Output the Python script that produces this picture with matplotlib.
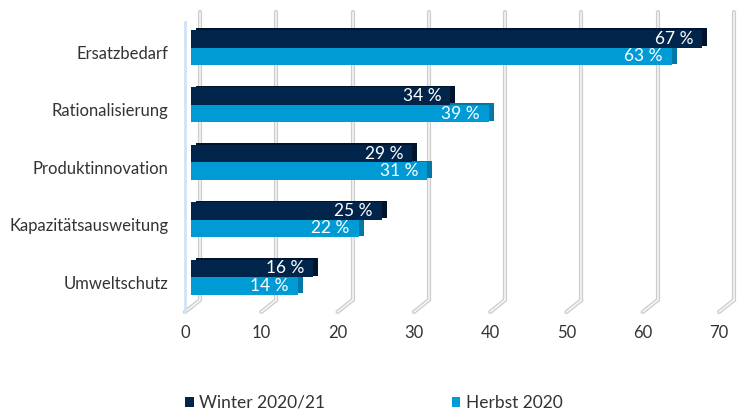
import matplotlib
matplotlib.use("Agg")
import matplotlib.pyplot as plt
from matplotlib.patches import Patch
from matplotlib.transforms import ScaledTranslation, blended_transform_factory

plt.rcParams["font.family"] = ["Lato", "DejaVu Sans"]

categories = ["Ersatzbedarf", "Rationalisierung", "Produktinnovation",
              "Kapazitätsausweitung", "Umweltschutz"]
winter = [67, 34, 29, 25, 16]
herbst = [63, 39, 31, 22, 14]
series_names = ["Winter 2020/21", "Herbst 2020"]
xticks = [0, 10, 20, 30, 40, 50, 60, 70]

C_WINTER = "#00244a"
C_WINTER_SIDE = "#00152d"
C_HERBST = "#009bd5"
C_HERBST_SIDE = "#0079a8"
TEXT = "#333333"

fig = plt.figure(figsize=(7.44, 4.12), dpi=100)
ax = fig.add_axes([185 / 744, 1 - 312 / 412, (719 - 185) / 744, 300 / 412])
ax.set_xlim(0, 70)
ax.set_ylim(4.608, -0.6185)
for s in ax.spines.values():
    s.set_visible(False)

px = 1 / fig.dpi  # one pixel in inches
shift = lambda dx, dy: ScaledTranslation(dx * px, dy * px, fig.dpi_scale_trans)
mixed = blended_transform_factory(ax.transData, ax.transAxes)

# 3D-style walls: vertical gridlines on the back plane, floor edges slanting forward
depth_units = 15 / (ax.bbox.width / 70)
floor_y = 12 / 300
for t in xticks:
    xs_v = [t + depth_units, t + depth_units]
    ys_v = [floor_y, 1.0]
    xs_d = [t, t + depth_units]
    ys_d = [0, floor_y]
    for lw, col in [(3.0, "#cdcdcd"), (1.1, "#f8f8f8")]:
        ax.plot(xs_v, ys_v, color=col, lw=lw, transform=mixed,
                clip_on=False, zorder=1, solid_capstyle="round")
        ax.plot(xs_d, ys_d, color=col, lw=lw, transform=mixed,
                clip_on=False, zorder=1, solid_capstyle="round")
ax.plot([0, 0], [0, 290 / 300], color="#cfe4f4", lw=2, transform=mixed,
        clip_on=False, zorder=1)

idx = list(range(len(categories)))
h = 0.305
y_w = [i - h / 2 for i in idx]
y_h = [i + h / 2 for i in idx]

front = ax.transData + shift(6, 0)
side = ax.transData + shift(11, 1.5)

ax.barh(y_h, herbst, height=h, color=C_HERBST_SIDE, transform=side, zorder=2)
ax.barh(y_h, herbst, height=h, color=C_HERBST, transform=front, zorder=3)
ax.barh(y_w, winter, height=h, color=C_WINTER_SIDE, transform=side, zorder=4)
ax.barh(y_w, winter, height=h, color=C_WINTER, transform=front, zorder=5)

lab_tr = ax.transData + shift(-3, 0)
for y, v in zip(y_w, winter):
    ax.text(v, y, f"{v} %", color="white", fontsize=12.5, ha="right",
            va="center", transform=lab_tr, zorder=6)
for y, v in zip(y_h, herbst):
    ax.text(v, y, f"{v} %", color="white", fontsize=12.5, ha="right",
            va="center", transform=lab_tr, zorder=6)

ax.set_xticks(xticks)
ax.set_yticks(idx)
ax.set_yticklabels(categories)
ax.tick_params(axis="x", length=0, pad=9, labelsize=12, labelcolor=TEXT)
ax.tick_params(axis="y", length=0, pad=12, labelsize=12, labelcolor=TEXT)
for lab in ax.get_yticklabels():
    lab.set_transform(lab.get_transform() + shift(0, -5))

handles = [Patch(facecolor=C_WINTER), Patch(facecolor=C_HERBST)]
fig.legend(handles, series_names, loc="center left",
           bbox_to_anchor=(185 / 744, 1 - 403 / 412), ncol=2, frameon=False,
           fontsize=12.5, handlelength=0.5, handleheight=0.5,
           handletextpad=0.3, columnspacing=7.3, borderpad=0,
           borderaxespad=0, labelcolor=TEXT)

fig.savefig("out.png", dpi=100)
